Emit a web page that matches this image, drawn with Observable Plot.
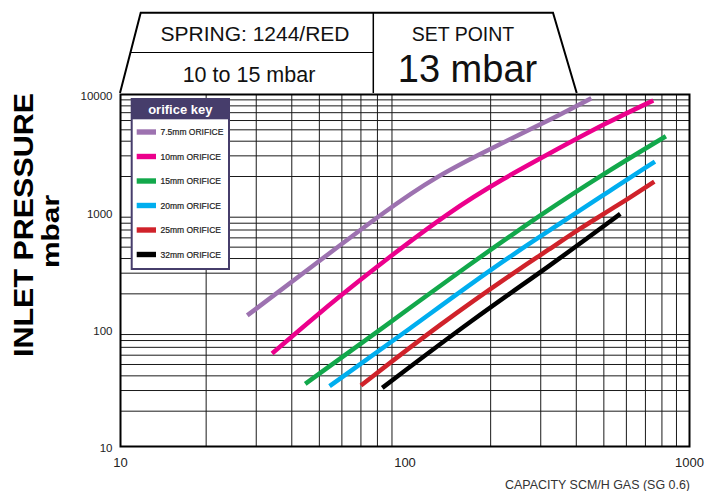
<!DOCTYPE html>
<html>
<head>
<meta charset="utf-8">
<script src="https://cdn.jsdelivr.net/npm/d3@7"></script>
<script src="https://cdn.jsdelivr.net/npm/@observablehq/plot@0.6"></script>
<style>
  html, body { margin: 0; padding: 0; background: #fff; }
  #chart { width: 705px; height: 491px; }
</style>
</head>
<body>
<div id="chart"></div>
<script>
// ---- data ----
const orifices = ["7.5mm ORIFICE", "10mm ORIFICE", "15mm ORIFICE", "20mm ORIFICE", "25mm ORIFICE", "32mm ORIFICE"];
const colors = ["#9d72b0", "#ec008c", "#12a84b", "#00aeef", "#d0222a", "#000000"];

const flow75  = [27.9, 47.6, 84, 130, 205, 312, 452];
const press75 = [131, 348, 993, 2040, 3560, 5810, 9300];
const flow10  = [34.1, 51.1, 71.6, 82, 145, 222, 312, 515, 746];
const press10 = [62, 144, 277, 360, 1026, 1923, 3020, 5810, 8890];
const flow15  = [44.6, 84.2, 166, 308, 488, 826];
const press15 = [34.2, 104, 348, 986, 2040, 4410];
const flow20  = [54.3, 102, 208, 372, 515, 756];
const press20 = [32.7, 97.3, 348, 871, 1469, 2684];
const flow25  = [70, 133, 262, 317, 409, 559, 752];
const press25 = [33.1, 111, 348, 468, 716, 1132, 1813];
const flow32  = [83.2, 175, 325, 571];
const press32 = [31.6, 124, 350, 961];

const flows = [flow75, flow10, flow15, flow20, flow25, flow32];
const pressures = [press75, press10, press15, press20, press25, press32];

const xTicks = [10, 100, 1000];
const yTicks = [10, 100, 1000, 10000];
const xGrid = [20, 30, 40, 50, 60, 70, 80, 90, 200, 300, 400, 500, 600, 700, 800, 900];
const yGrid = [20, 30, 40, 50, 60, 70, 80, 90, 200, 300, 400, 500, 600, 700, 800, 900,
               2000, 3000, 4000, 5000, 6000, 7000, 8000, 9000];

const spring = "SPRING: 1244/RED";
const springRange = "10 to 15 mbar";
const setPointLabel = "SET POINT";
const setPoint = "13 mbar";
const yTitle = "INLET PRESSURE";
const yUnit = "mbar";
const xTitle = "CAPACITY SCM/H GAS (SG 0.6)";
const keyTitle = "orifice key";

const rows = [];
orifices.forEach((name, i) => {
  flows[i].forEach((f, j) => rows.push({orifice: name, flow: f, pressure: pressures[i][j]}));
});

const font = "'Liberation Sans', Arial, sans-serif";

const plot = Plot.plot({
  width: 705,
  height: 491,
  marginLeft: 120,
  marginRight: 16,
  marginTop: 94,
  marginBottom: 45,
  style: {fontFamily: font, background: "#fff", overflow: "visible"},
  x: {type: "log", domain: [10, 1000]},
  y: {type: "log", domain: [10, 10000]},
  color: {domain: orifices, range: colors},
  marks: [
    Plot.ruleX(xGrid, {stroke: "#1a1a1a", strokeWidth: 1}),
    Plot.ruleY(yGrid, {stroke: "#1a1a1a", strokeWidth: 1}),
    Plot.line(rows, {x: "flow", y: "pressure", z: "orifice", stroke: "orifice",
      strokeWidth: 4.5, curve: "basis", strokeLinecap: "butt"}),
    Plot.frame({stroke: "#000", strokeWidth: 2}),
    Plot.axisX(xTicks, {label: null, tickSize: 0, tickPadding: 11, tickFormat: d => String(d), fontSize: 13, fill: "#222"}),
    Plot.axisY(yTicks, {label: null, tickSize: 0, tickPadding: 8, tickFormat: d => String(d), fontSize: 11.5, fill: "#222", dy: 2})
  ]
});

document.getElementById("chart").appendChild(plot);
const svg = d3.select(plot);

// ---- header panel ----
const hdr = svg.append("g");
hdr.append("path")
  .attr("d", "M120,93 L140.7,12.7 L553,12.7 L576.7,93")
  .attr("fill", "#fff").attr("stroke", "#000").attr("stroke-width", 2).attr("stroke-linejoin", "miter");
hdr.append("line").attr("x1", 373.3).attr("x2", 373.3).attr("y1", 12.7).attr("y2", 93)
  .attr("stroke", "#000").attr("stroke-width", 1.5);
hdr.append("line").attr("x1", 130.5).attr("x2", 373.3).attr("y1", 52.5).attr("y2", 52.5)
  .attr("stroke", "#000").attr("stroke-width", 1.2);
const htext = (t, x, y, size) => hdr.append("text").text(t).attr("x", x).attr("y", y)
  .attr("text-anchor", "middle").attr("font-family", font).attr("font-size", size).attr("fill", "#111");
htext(spring, 255, 40.7, 21);
htext(springRange, 249, 81.5, 21.5);
htext(setPointLabel, 463, 40.7, 19.5);
htext(setPoint, 467.5, 81.5, 38);

// ---- y title ----
svg.append("text").text(yTitle)
  .attr("transform", "translate(33,225) rotate(-90)")
  .attr("text-anchor", "middle").attr("font-family", font).attr("font-weight", "bold")
  .attr("font-size", 28).attr("textLength", 264).attr("lengthAdjust", "spacingAndGlyphs").attr("fill", "#000");
svg.append("text").text(yUnit)
  .attr("transform", "translate(58.5,231.5) rotate(-90)")
  .attr("text-anchor", "middle").attr("font-family", font).attr("font-weight", "bold")
  .attr("font-size", 24).attr("textLength", 73).attr("lengthAdjust", "spacingAndGlyphs").attr("fill", "#000");

// ---- x title ----
svg.append("text").text(xTitle)
  .attr("x", 690).attr("y", 489).attr("text-anchor", "end")
  .attr("font-family", font).attr("font-size", 12).attr("textLength", 185)
  .attr("lengthAdjust", "spacingAndGlyphs").attr("fill", "#333");

// ---- legend ----
const lg = svg.append("g");
lg.append("rect").attr("x", 131.7).attr("y", 99).attr("width", 97.3).attr("height", 170)
  .attr("fill", "#fff").attr("stroke", "#463d6b").attr("stroke-width", 2);
lg.append("rect").attr("x", 131.7).attr("y", 99).attr("width", 97.3).attr("height", 20.3)
  .attr("fill", "#463d6b");
lg.append("text").text(keyTitle).attr("x", 180.3).attr("y", 114)
  .attr("text-anchor", "middle").attr("font-family", font).attr("font-weight", "bold")
  .attr("font-size", 13).attr("fill", "#fff");
orifices.forEach((name, i) => {
  const cy = 132 + i * 24.5;
  lg.append("rect").attr("x", 136.7).attr("y", cy - 2.7).attr("width", 19.3).attr("height", 5.4)
    .attr("fill", colors[i]);
  lg.append("text").text(name).attr("x", 160.5).attr("y", cy + 3)
    .attr("text-anchor", "start")
    .attr("font-family", font).attr("font-size", 8.5).attr("fill", "#222")
    .attr("stroke", "#222").attr("stroke-width", 0.2);
});
</script>
</body>
</html>
